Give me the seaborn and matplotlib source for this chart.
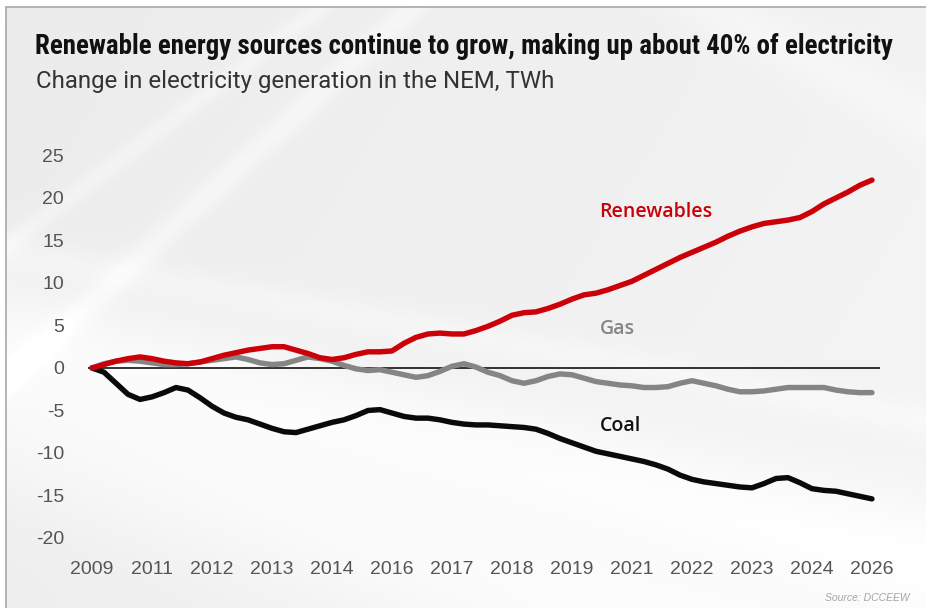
import numpy as np
import pandas as pd
import seaborn as sns
import matplotlib.pyplot as plt
from matplotlib import font_manager

# quarterly points, one year label every 5 quarters
year_labels = ['2009', '2011', '2012', '2013', '2014', '2016', '2017',
               '2018', '2019', '2021', '2022', '2023', '2024', '2026']

renewables = [0.0, 0.4, 0.8, 1.1, 1.3, 1.1, 0.8, 0.6, 0.5, 0.7, 1.1, 1.5, 1.8, 2.1,
              2.3, 2.5, 2.5, 2.1, 1.7, 1.2, 1.0, 1.2, 1.6, 1.9, 1.9, 2.0, 2.9, 3.6,
              4.0, 4.1, 4.0, 4.0, 4.4, 4.9, 5.5, 6.2, 6.5, 6.6, 7.0, 7.5, 8.1, 8.6,
              8.8, 9.2, 9.7, 10.2, 10.9, 11.6, 12.3, 13.0, 13.6, 14.2, 14.8, 15.5,
              16.1, 16.6, 17.0, 17.2, 17.4, 17.7, 18.4, 19.3, 20.0, 20.7, 21.5, 22.1]

gas = [0.0, 0.5, 0.8, 0.9, 0.8, 0.6, 0.4, 0.4, 0.5, 0.7, 0.9, 1.1, 1.3, 1.0,
       0.6, 0.4, 0.5, 0.9, 1.3, 1.1, 0.8, 0.3, -0.1, -0.3, -0.2, -0.5, -0.8, -1.1,
       -0.9, -0.4, 0.2, 0.5, 0.1, -0.5, -0.9, -1.5, -1.8, -1.5, -1.0, -0.7, -0.8,
       -1.2, -1.6, -1.8, -2.0, -2.1, -2.3, -2.3, -2.2, -1.8, -1.5, -1.8, -2.1,
       -2.5, -2.8, -2.8, -2.7, -2.5, -2.3, -2.3, -2.3, -2.3, -2.6, -2.8, -2.9, -2.9]

coal = [0.0, -0.5, -1.8, -3.1, -3.7, -3.4, -2.9, -2.3, -2.6, -3.5, -4.5, -5.3,
        -5.8, -6.1, -6.6, -7.1, -7.5, -7.6, -7.2, -6.8, -6.4, -6.1, -5.6, -5.0,
        -4.9, -5.3, -5.7, -5.9, -5.9, -6.1, -6.4, -6.6, -6.7, -6.7, -6.8, -6.9,
        -7.0, -7.2, -7.7, -8.3, -8.8, -9.3, -9.8, -10.1, -10.4, -10.7, -11.0,
        -11.4, -11.9, -12.6, -13.1, -13.4, -13.6, -13.8, -14.0, -14.1, -13.6,
        -13.0, -12.9, -13.5, -14.2, -14.4, -14.5, -14.8, -15.1, -15.4]

series_names = ['Gas', 'Coal', 'Renewables']
colors = {'Gas': '#858585', 'Coal': '#0a0a0a', 'Renewables': '#cc0008'}
y_ticks = [-20, -15, -10, -5, 0, 5, 10, 15, 20, 25]

quarter = np.arange(len(renewables))
df = pd.DataFrame({
    'quarter': np.tile(quarter, 3),
    'value': gas + coal + renewables,
    'source': np.repeat(series_names, len(quarter)),
})

sns.set_theme(style='white')

names = {f.name for f in font_manager.fontManager.ttflist}


def pick(*cands):
    for c in cands:
        if c in names:
            return c
    return 'DejaVu Sans'


narrow = pick('Liberation Sans Narrow', 'Roboto Condensed', 'Open Sans Condensed',
              'DejaVu Sans')
plain = pick('Liberation Sans', 'Arial', 'DejaVu Sans')
light = pick('Roboto', 'Open Sans', 'Lato', 'DejaVu Sans')
label_font = pick('Open Sans', 'Roboto', 'DejaVu Sans')
plt.rcParams['font.family'] = [plain, 'DejaVu Sans']

W, H = 926, 608
fig = plt.figure(figsize=(W / 100, H / 100), dpi=100)

# background card: light grey with soft diagonal streaks
bg = fig.add_axes([0, 0, 1, 1], zorder=-5)
yy, xx = np.mgrid[0:H, 0:W]
img = 0.925 + 0.025 * (xx / W) + 0.01 * (yy / H)
for (x0, y0, x1, y1, w, a) in [(0, 330, 926, 560, 60, 0.04), (0, 420, 600, 608, 80, 0.04),
                                (420, 0, 60, 330, 14, 0.03), (330, 0, 0, 250, 10, 0.025),
                                (700, 0, 926, 120, 25, 0.02), (0, 250, 926, 420, 18, 0.02)]:
    dx, dy = x1 - x0, y1 - y0
    d = np.abs((xx - x0) * dy - (yy - y0) * dx) / np.hypot(dx, dy)
    img = img + a * np.exp(-(d / w) ** 2)
img = np.clip(img, 0, 1)
img[:7, :] = 1.0
img[:, :6] = 1.0
bg.imshow(np.dstack([img] * 3), aspect='auto', extent=(0, W, H, 0))
bg.plot([6, W], [7, 7], color='#a8a8a8', lw=1.2)
bg.plot([6, 6], [7, H], color='#a8a8a8', lw=1.2)
bg.set_xlim(0, W)
bg.set_ylim(H, 0)
bg.axis('off')

ax = fig.add_axes([80 / W, 57 / H, 806 / W, 410 / H])
ax.set_facecolor('none')
ax.hlines(0, quarter.min() - 0.3, quarter.max() + 0.7, color='#111111', lw=1.2, zorder=1)
sns.lineplot(data=df, x='quarter', y='value', hue='source', hue_order=series_names,
             palette=colors, linewidth=3.9, legend=False, ax=ax, zorder=3)
for line in ax.lines:
    line.set_solid_capstyle('round')
    line.set_solid_joinstyle('round')

ax.set_xlim(-1, 66.17)
ax.set_ylim(-21.53, 26.7)
ax.set_xticks(quarter[::5], labels=year_labels)
ax.set_yticks(y_ticks, labels=[str(t) for t in y_ticks])
ax.tick_params(axis='both', length=0, labelsize=14, labelcolor='#555555')
ax.tick_params(axis='y', pad=11.5)
ax.tick_params(axis='x', pad=7)
ax.set_xlabel('')
ax.set_ylabel('')
sns.despine(ax=ax, left=True, bottom=True)

# inline series labels
lab_x = quarter[::5][8] + 2.3
ax.text(lab_x, 18.35, 'Renewables', color=colors['Renewables'], fontsize=14,
        fontweight='semibold', family=label_font, va='center', ha='left')
ax.text(lab_x, 4.6, 'Gas', color=colors['Gas'], fontsize=14,
        fontweight='semibold', family=label_font, va='center', ha='left')
ax.text(lab_x, -6.8, 'Coal', color='#111111', fontsize=14,
        fontweight='semibold', family=label_font, va='center', ha='left')

# title and subtitle, sized to fill the same width as the original
title = fig.text(35 / W, 1 - 54 / H,
                 'Renewable energy sources continue to grow, making up about 40% of electricity',
                 family=narrow, fontweight='heavy', fontsize=20, color='#111111',
                 va='baseline', ha='left')
sub = fig.text(36 / W, 1 - 88 / H, 'Change in electricity generation in the NEM, TWh',
               family=light, fontweight='normal', fontstyle='normal', fontsize=14,
               color='#333333', va='baseline', ha='left')
fig.canvas.draw()
r = fig.canvas.get_renderer()
for t, target in [(title, 858), (sub, 521)]:
    w = t.get_window_extent(r).width
    t.set_fontsize(t.get_fontsize() * target / w)

fig.text(910 / W, 1 - 598 / H, 'Source: DCCEEW', ha='right', va='center',
         fontsize=7.5, style='italic', color='#a5a5a5')

fig.savefig('out.png', dpi=100)
